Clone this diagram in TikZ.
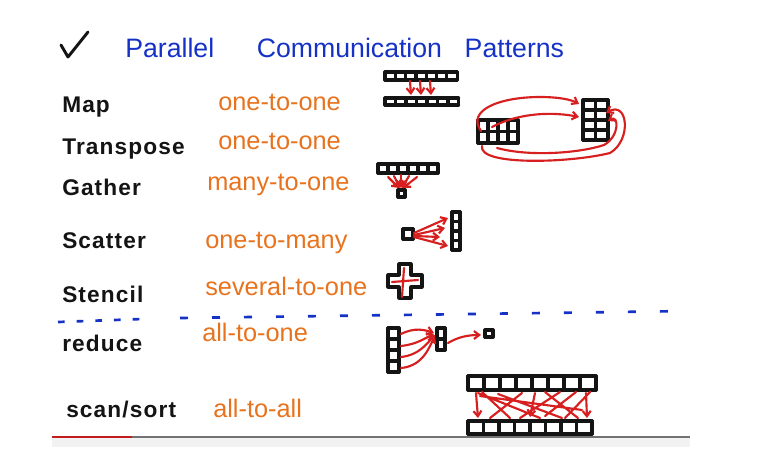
\documentclass[tikz,border=0pt]{standalone}
\usepackage{fontspec}
\setmainfont{Liberation Sans}
\newfontfamily\handfont[LetterSpace=5]{Liberation Sans}
\usepackage{tikz}
\usetikzlibrary{arrows.meta}
\definecolor{ink}{HTML}{141414}
\definecolor{penblue}{HTML}{1632C6}
\definecolor{penorange}{HTML}{E8731E}
\definecolor{penred}{HTML}{D71F1F}
\tikzset{pen/.style={line width=2.4pt,line cap=round,line join=round,draw=ink},
  redpen/.style={line width=1.6pt,line cap=round,line join=round,draw=penred},
  redarrow/.style={redpen,-{Straight Barb[length=4pt,width=6pt]}},
  kind/.style={anchor=base west,inner sep=0pt,text=ink,font=\handfont\bfseries\fontsize{17}{20}\selectfont},
  ratio/.style={anchor=base west,inner sep=0pt,text=penorange,font=\fontsize{19}{22}\selectfont}}
\newcommand{\cells}[6][]{%
  \begin{scope}[shift={(#2)},pen,#1]
    \foreach \i in {0,...,#3} \draw (\i*#5,0) -- (\i*#5,#4*#6);
    \foreach \j in {0,...,#4} \draw (0,\j*#6) -- (#3*#5,\j*#6);
  \end{scope}}

\begin{document}
\begin{tikzpicture}[x=0.75pt,y=-0.75pt]
  \useasboundingbox (0,0) rectangle (780,467);
  \fill[white] (0,0) rectangle (780,467);
  \fill[black!5] (52,438) rectangle (690,447);
  \draw[line width=2.2pt,black!55] (132,437) -- (690,437);
  \draw[line width=2.2pt,penred!90!black] (52,437) -- (132,437);
  \draw[pen,line width=2.2pt] (61,45) -- (68,57) -- (88,32);
  \node[anchor=base west,inner sep=0pt,text=penblue,font=\fontsize{20}{24}\selectfont] (title) at (125,57)
    {Parallel\hspace{32pt}Communication\hspace{17pt}Patterns};
  \node[kind] (map) at (62,112) {Map};
  \node[kind] (transpose) at (62,154) {Transpose};
  \node[kind] (gather) at (62,195) {Gather};
  \node[kind] (scatter) at (62,248) {Scatter};
  \node[kind] (stencil) at (62,302) {Stencil};
  \node[kind] (reduce) at (62,351) {reduce};
  \node[kind] (scansort) at (66,417) {scan/sort};
  \node[ratio] (mapratio) at (218,110) {one-to-one};
  \node[ratio] (transposeratio) at (218,149) {one-to-one};
  \node[ratio] (gatherratio) at (207,190) {many-to-one};
  \node[ratio] (scatterratio) at (205,248) {one-to-many};
  \node[ratio] (stencilratio) at (205,295) {several-to-one};
  \node[ratio] (reduceratio) at (202,341) {all-to-one};
  \node[ratio] (scanratio) at (213,417) {all-to-all};
  \draw[penblue,line width=2pt,dash pattern=on 5pt off 9pt] (58,322) -- (142,319);
  \draw[penblue,line width=2pt,dash pattern=on 6pt off 18pt] (180,318) -- (690,311);
  % map
  \cells{385,72}{7}{1}{10.3}{8}
  \cells{385,98}{7}{1}{10.5}{7}
  \draw[redarrow] (410,81) -- (411,95);
  \draw[redarrow] (420,81) -- (421,95);
  \draw[redarrow] (430,81) -- (431,95);
  % transpose
  \cells{478,120}{4}{2}{10}{11.5}
  \cells{583,100}{2}{4}{12.5}{10}
  \draw[redarrow] (481,131) .. controls (466,110) and (500,97) .. (540,97) .. controls (560,97) and (572,100) .. (579,104);
  \draw[redarrow] (492,127) .. controls (520,112) and (555,112) .. (579,117);
  \draw[redarrow] (482,146) .. controls (478,166) and (570,163) .. (610,153) .. controls (632,140) and (628,100) .. (606,113);
  \draw[redarrow] (497,148) .. controls (530,157) and (580,153) .. (604,145) .. controls (620,136) and (619,114) .. (608,121);
  % gather
  \cells{378,164}{6}{1}{10}{9}
  \cells{398,190}{1}{1}{7}{7}
  \draw[redarrow] (388,177) -- (399,188);
  \draw[redarrow] (394,176) -- (400,188);
  \draw[redarrow] (401,175) -- (401,188);
  \draw[redarrow] (409,176) -- (402,188);
  \draw[redarrow] (417,177) -- (403,188);
  % scatter
  \cells{403,229}{1}{1}{10}{10}
  \cells{452,212}{1}{4}{8}{9.5}
  \draw[redarrow] (414,233) -- (448,218);
  \draw[redarrow] (414,235) -- (445,228);
  \draw[redarrow] (414,236) -- (440,237);
  \draw[redarrow] (414,237) -- (448,246);
  % stencil
  \draw[pen] (399,264) -- (411,264) -- (411,275) -- (422,275) -- (422,287) -- (411,287) -- (411,298)
    -- (399,298) -- (399,287) -- (388,287) -- (388,275) -- (399,275) -- cycle;
  \draw[redpen] (404,268) -- (402,297) (392,282) -- (418,280);
  % reduce
  \cells{388,328}{1}{4}{11}{11}
  \cells{437,328}{1}{2}{8}{11}
  \cells{485,330}{1}{1}{8}{7}
  \draw[redarrow] (401,334) .. controls (415,327) and (425,330) .. (434,333);
  \draw[redarrow] (401,346) .. controls (418,344) and (425,338) .. (434,334);
  \draw[redarrow] (401,357) .. controls (420,355) and (428,342) .. (435,335);
  \draw[redarrow] (401,368) .. controls (424,366) and (430,345) .. (435,336);
  \draw[redarrow] (448,343) .. controls (458,337) and (468,335) .. (481,335);
  % scan/sort
  \cells{468,376}{8}{1}{16}{14}
  \cells{468,421}{8}{1}{15.5}{13}
  \draw[redarrow] (476,393) -- (478,418);
  \draw[redpen] (478,393) -- (540,418) (482,392) -- (510,418) (498,394) -- (562,418)
    (522,393) -- (490,418) (545,392) -- (578,418) (560,392) -- (520,418)
    (576,392) -- (545,416) (590,392) -- (565,418) (480,396) -- (582,410);
  \draw[redarrow] (586,393) -- (587,418);
  \draw[redarrow] (535,393) -- (530,417);
\end{tikzpicture}
\end{document}
